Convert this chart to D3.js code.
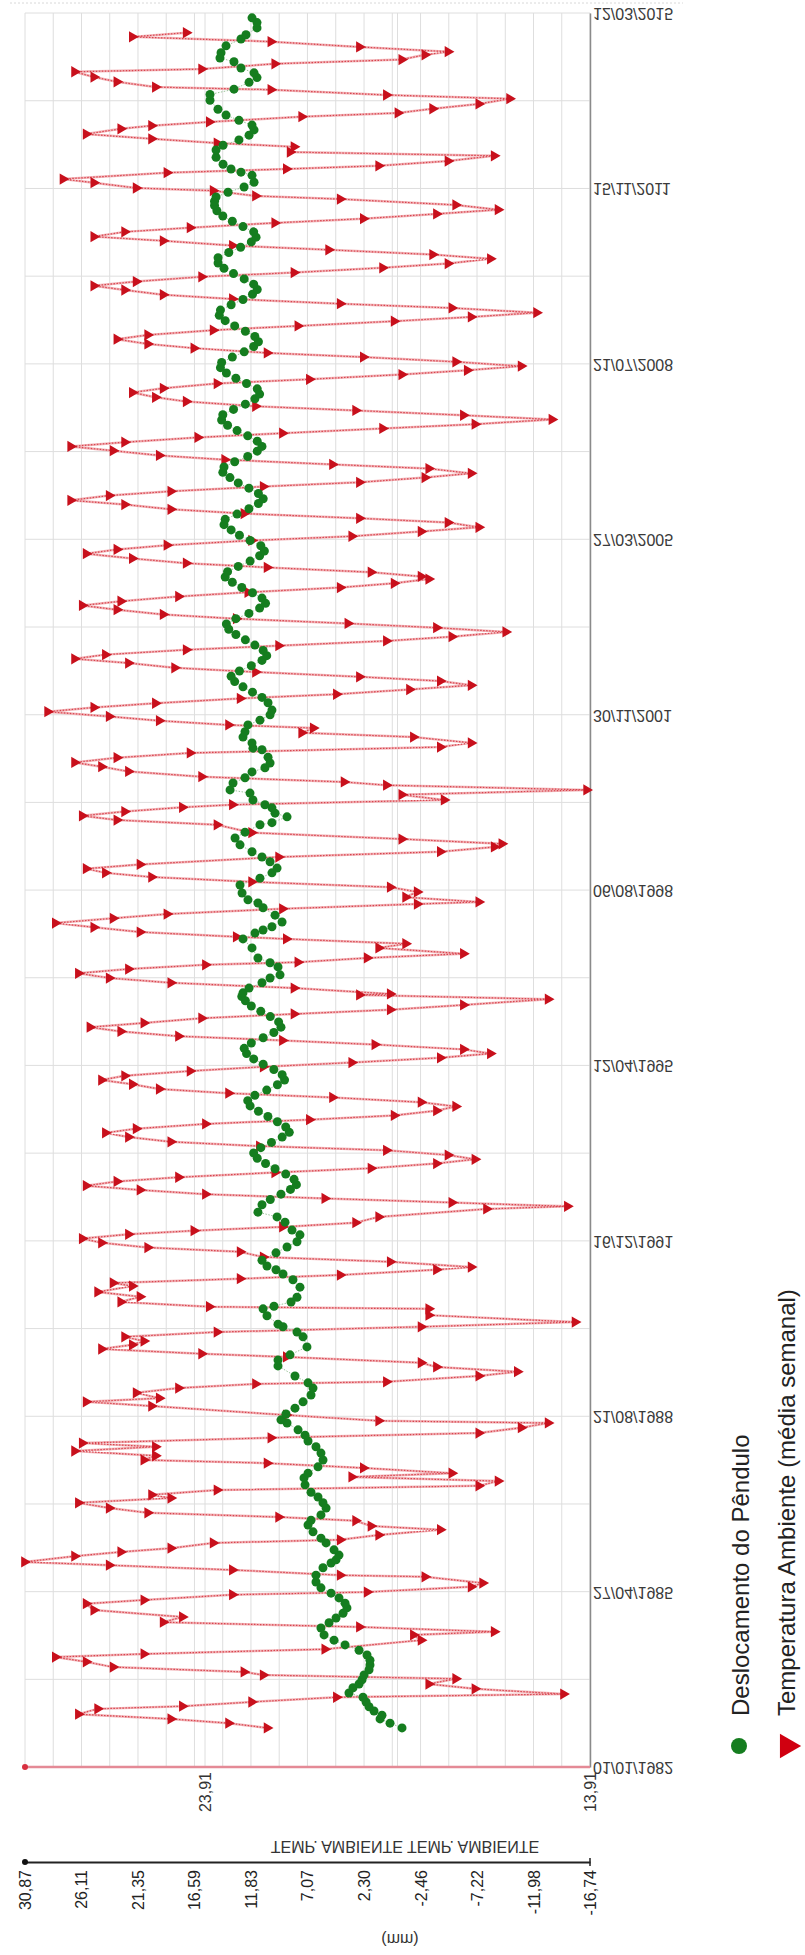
<!DOCTYPE html>
<html>
<head>
<meta charset="utf-8">
<script src="https://cdn.jsdelivr.net/npm/d3@7"></script>
<style>
  body { margin: 0; background: #fff; }
  svg { display: block; }
</style>
</head>
<body>
<div id="chart"></div>
<script>
// time axis tick labels (dd/mm/yyyy)
const dateTicks = ["01/01/1982", "27/04/1985", "21/08/1988", "16/12/1991", "12/04/1995",
  "06/08/1998", "30/11/2001", "27/03/2005", "21/07/2008", "15/11/2011", "12/03/2015"];
// displacement axis (mm)
const mmTicks = [30.87, 26.11, 21.35, 16.59, 11.83, 7.07, 2.30, -2.46, -7.22, -11.98, -16.74];
// temperature axis
const tempTicks = [23.91, 13.91];
const tempGrid = [23.91, 18.91, 13.91];

// Temperatura Ambiente (média semanal): [decimal year, °C]
const tempSeries = [
  [1982.74, 22.3], [1982.83, 23.3], [1982.91, 24.8], [1983.00, 27.2], [1983.10, 26.7], [1983.15, 24.5],
  [1983.23, 22.7], [1983.32, 20.5], [1983.38, 14.6], [1983.48, 16.9], [1983.57, 18.1], [1983.67, 17.4],
  [1983.74, 22.4], [1983.80, 22.9], [1983.89, 26.3], [1983.99, 27.0], [1984.08, 27.8], [1984.14, 25.5],
  [1984.23, 20.8], [1984.40, 18.3], [1984.50, 18.5], [1984.56, 16.4], [1984.65, 19.9], [1984.74, 25.0],
  [1984.84, 24.5], [1984.97, 26.8], [1985.09, 27.0], [1985.16, 25.5], [1985.26, 23.2], [1985.31, 19.7],
  [1985.41, 17.0], [1985.48, 16.7], [1985.60, 18.2], [1985.63, 20.4], [1985.73, 23.2], [1985.82, 26.4],
  [1985.88, 28.6], [1985.99, 27.3], [1986.07, 26.1], [1986.14, 24.8], [1986.24, 23.7], [1986.30, 20.4],
  [1986.39, 19.4], [1986.49, 17.8], [1986.56, 19.6], [1986.66, 20.0], [1986.73, 22.0], [1986.81, 25.4],
  [1986.90, 26.4], [1987.00, 27.2], [1987.09, 24.8], [1987.15, 25.3], [1987.24, 23.6], [1987.32, 16.8],
  [1987.41, 16.3], [1987.49, 20.1], [1987.56, 17.5], [1987.66, 19.8], [1987.75, 22.3], [1987.81, 25.5],
  [1987.89, 25.2], [1987.98, 27.3], [1988.06, 25.2], [1988.13, 27.1], [1988.23, 22.2], [1988.32, 16.8],
  [1988.42, 15.7], [1988.51, 15.0], [1988.55, 19.4], [1988.66, 21.8], [1988.83, 25.3], [1988.91, 27.0],
  [1988.98, 25.1], [1989.08, 25.7], [1989.17, 24.6], [1989.25, 22.6], [1989.29, 19.2], [1989.40, 16.8],
  [1989.48, 15.8], [1989.57, 17.9], [1989.65, 18.3], [1989.76, 21.8], [1989.82, 24.0], [1989.91, 26.6],
  [1989.99, 25.8], [1990.06, 25.5], [1990.14, 26.0], [1990.23, 23.6], [1990.33, 18.3], [1990.42, 14.3],
  [1990.55, 18.1], [1990.67, 18.1], [1990.71, 23.8], [1990.80, 26.1], [1990.90, 25.6], [1990.99, 26.7],
  [1991.10, 25.8], [1991.16, 26.3], [1991.24, 23.0], [1991.31, 20.4], [1991.41, 17.9], [1991.46, 17.0],
  [1991.56, 19.1], [1991.65, 22.4], [1991.75, 23.0], [1991.83, 25.4], [1991.92, 26.6], [1992.00, 27.1],
  [1992.08, 25.9], [1992.15, 24.2], [1992.22, 21.9], [1992.30, 20.0], [1992.41, 19.4], [1992.56, 16.6],
  [1992.61, 14.5], [1992.68, 17.5], [1992.76, 20.8], [1992.84, 23.9], [1992.92, 25.6], [1993.00, 27.0],
  [1993.08, 26.2], [1993.16, 24.6], [1993.25, 22.1], [1993.33, 19.6], [1993.42, 17.9], [1993.50, 16.9],
  [1993.58, 17.6], [1993.67, 19.2], [1993.75, 22.5], [1993.83, 24.8], [1993.92, 25.9], [1994.00, 26.5],
  [1994.08, 25.7], [1994.17, 23.9], [1994.25, 21.2], [1994.33, 19.0], [1994.42, 17.9], [1994.50, 17.4],
  [1994.58, 18.3], [1994.67, 20.6], [1994.75, 23.3], [1994.83, 25.1], [1994.92, 25.8], [1995.00, 26.6],
  [1995.08, 26.0], [1995.17, 24.3], [1995.25, 22.4], [1995.33, 20.1], [1995.42, 17.8], [1995.50, 16.5],
  [1995.58, 17.2], [1995.67, 19.5], [1995.75, 21.9], [1995.83, 24.6], [1995.92, 26.1], [1996.00, 26.9],
  [1996.08, 25.5], [1996.17, 24.0], [1996.25, 21.6], [1996.33, 19.1], [1996.42, 17.2], [1996.53, 15.0],
  [1996.61, 19.9], [1996.63, 19.1], [1996.74, 21.6], [1996.84, 24.8], [1996.93, 26.4], [1997.02, 27.2],
  [1997.10, 25.9], [1997.18, 23.9], [1997.23, 21.5], [1997.31, 19.7], [1997.39, 17.2], [1997.50, 19.4],
  [1997.58, 18.7], [1997.67, 21.8], [1997.71, 23.1], [1997.80, 25.6], [1997.89, 26.8], [1997.97, 27.8],
  [1998.06, 26.3], [1998.14, 24.9], [1998.24, 21.9], [1998.33, 18.4], [1998.37, 16.8], [1998.46, 18.7],
  [1998.56, 18.4], [1998.65, 19.1], [1998.75, 22.7], [1998.84, 25.3], [1998.92, 26.5], [1999.00, 27.0],
  [1999.08, 25.6], [1999.22, 22.0], [1999.32, 17.8], [1999.41, 16.4], [1999.47, 16.2], [1999.56, 18.8],
  [1999.68, 22.7], [1999.83, 23.6], [1999.92, 26.2], [2000.00, 27.1], [2000.08, 26.0], [2000.16, 24.5],
  [2000.21, 23.2], [2000.30, 17.7], [2000.40, 18.8], [2000.49, 14.0], [2000.58, 19.2], [2000.64, 20.3],
  [2000.74, 24.0], [2000.84, 25.9], [2000.93, 26.6], [2001.01, 27.3], [2001.10, 26.2], [2001.19, 24.3],
  [2001.30, 17.8], [2001.38, 17.0], [2001.49, 18.5], [2001.57, 21.4], [2001.66, 21.1], [2001.72, 23.3],
  [2001.80, 25.1], [2001.88, 26.4], [2001.97, 28.0], [2002.05, 26.8], [2002.13, 25.2], [2002.22, 23.0],
  [2002.30, 20.5], [2002.39, 18.6], [2002.47, 17.0], [2002.55, 17.8], [2002.63, 19.9], [2002.72, 22.6],
  [2002.80, 24.7], [2002.89, 25.9], [2002.97, 27.3], [2003.05, 26.5], [2003.14, 24.4], [2003.22, 22.0],
  [2003.31, 19.2], [2003.39, 17.5], [2003.48, 16.1], [2003.56, 17.9], [2003.64, 20.2], [2003.73, 23.1],
  [2003.81, 25.0], [2003.90, 26.2], [2003.98, 27.1], [2004.06, 26.1], [2004.15, 24.6], [2004.23, 22.8],
  [2004.32, 20.4], [2004.40, 19.0], [2004.48, 18.1], [2004.53, 18.3], [2004.61, 19.6], [2004.70, 22.3],
  [2004.78, 24.4], [2004.87, 25.8], [2004.96, 27.0], [2005.04, 26.2], [2005.12, 24.9], [2005.21, 22.7],
  [2005.29, 20.1], [2005.38, 18.3], [2005.46, 16.8], [2005.55, 17.6], [2005.63, 19.9], [2005.72, 22.9],
  [2005.80, 24.8], [2005.89, 26.0], [2005.97, 27.4], [2006.06, 26.4], [2006.14, 24.8], [2006.23, 22.4],
  [2006.31, 19.9], [2006.40, 18.2], [2006.48, 17.0], [2006.57, 18.1], [2006.65, 20.6], [2006.74, 23.4],
  [2006.82, 25.1], [2006.91, 26.3], [2006.99, 27.4], [2007.07, 26.0], [2007.16, 24.1], [2007.24, 21.9],
  [2007.33, 19.3], [2007.41, 16.9], [2007.50, 14.9], [2007.58, 17.2], [2007.67, 20.0], [2007.75, 22.6],
  [2007.84, 24.4], [2007.92, 25.2], [2008.01, 25.8], [2008.09, 25.0], [2008.18, 23.6], [2008.26, 21.2],
  [2008.35, 18.8], [2008.43, 17.1], [2008.51, 15.7], [2008.59, 17.4], [2008.68, 19.8], [2008.76, 22.3],
  [2008.85, 24.2], [2008.93, 25.4], [2009.02, 26.2], [2009.10, 25.4], [2009.19, 23.7], [2009.27, 21.5],
  [2009.36, 19.0], [2009.44, 17.0], [2009.52, 15.3], [2009.61, 17.5], [2009.69, 20.4], [2009.78, 23.2],
  [2009.86, 25.0], [2009.95, 26.0], [2010.03, 26.8], [2010.11, 25.7], [2010.20, 24.0], [2010.28, 21.6],
  [2010.37, 19.3], [2010.45, 17.6], [2010.54, 16.5], [2010.62, 18.0], [2010.71, 20.7], [2010.79, 23.2],
  [2010.88, 25.0], [2010.96, 26.8], [2011.05, 26.0], [2011.13, 24.3], [2011.22, 22.1], [2011.30, 19.8],
  [2011.39, 17.9], [2011.47, 16.3], [2011.56, 17.4], [2011.67, 20.4], [2011.73, 22.6], [2011.83, 23.7],
  [2011.88, 25.7], [2011.98, 26.8], [2012.05, 27.6], [2012.17, 24.9], [2012.24, 21.8], [2012.30, 19.4],
  [2012.39, 17.6], [2012.49, 16.4], [2012.56, 21.7], [2012.66, 21.6], [2012.73, 23.6], [2012.81, 25.3],
  [2012.90, 27.0], [2013.00, 26.1], [2013.06, 25.3], [2013.13, 23.8], [2013.23, 21.4], [2013.30, 18.9],
  [2013.38, 18.0], [2013.47, 16.8], [2013.57, 16.0], [2013.64, 19.2], [2013.74, 22.2], [2013.79, 25.2],
  [2013.89, 26.2], [2013.98, 26.8], [2014.08, 27.3], [2014.13, 24.0], [2014.23, 22.1], [2014.31, 18.8],
  [2014.40, 18.2], [2014.46, 17.6], [2014.55, 19.9], [2014.65, 22.2], [2014.74, 25.8], [2014.82, 24.4]
];

// Deslocamento do Pêndulo: [decimal year, mm]
const dispSeries = [
  [1982.74, -0.90], [1982.83, 0.11], [1982.91, 0.95], [1982.98, 0.79], [1983.06, 1.46], [1983.14, 1.88],
  [1983.23, 2.13], [1983.32, 2.39], [1983.40, 3.57], [1983.50, 3.23], [1983.57, 2.72], [1983.65, 2.47],
  [1983.74, 2.30], [1983.84, 1.88], [1983.93, 1.80], [1984.02, 1.80], [1984.12, 2.05], [1984.21, 2.72],
  [1984.31, 3.90], [1984.40, 4.83], [1984.50, 5.67], [1984.63, 5.93], [1984.73, 5.25], [1984.82, 4.66],
  [1984.91, 4.07], [1985.01, 3.74], [1985.10, 3.90], [1985.20, 4.41], [1985.29, 5.08], [1985.39, 5.93],
  [1985.50, 6.35], [1985.63, 6.35], [1985.77, 5.76], [1985.86, 5.08], [1985.92, 4.66], [1986.01, 4.41],
  [1986.11, 4.83], [1986.24, 5.50], [1986.33, 5.93], [1986.45, 6.60], [1986.58, 7.02], [1986.67, 6.77],
  [1986.77, 5.93], [1986.90, 5.50], [1987.00, 5.76], [1987.11, 6.18], [1987.20, 6.77], [1987.34, 7.27],
  [1987.47, 7.36], [1987.56, 7.02], [1987.68, 6.18], [1987.81, 5.76], [1987.94, 5.93], [1988.06, 6.35],
  [1988.17, 7.02], [1988.28, 7.27], [1988.38, 7.86], [1988.51, 8.79], [1988.57, 9.30], [1988.68, 8.88],
  [1988.79, 8.12], [1988.91, 7.44], [1989.04, 6.77], [1989.17, 6.60], [1989.27, 7.02], [1989.40, 8.12],
  [1989.59, 9.55], [1989.70, 9.55], [1989.80, 8.54], [1989.95, 7.11], [1990.14, 7.44], [1990.23, 7.95],
  [1990.33, 9.13], [1990.38, 9.55], [1990.54, 10.48], [1990.67, 10.81], [1990.72, 9.89], [1990.80, 8.45],
  [1990.89, 7.95], [1991.08, 7.70], [1991.22, 8.29], [1991.33, 9.13], [1991.41, 9.72], [1991.48, 10.48],
  [1991.59, 10.90], [1991.73, 9.72], [1991.84, 8.79], [1991.94, 7.95], [1992.07, 7.70], [1992.16, 8.37],
  [1992.31, 8.96], [1992.41, 9.63], [1992.50, 11.24], [1992.64, 10.90], [1992.74, 10.2], [1992.84, 9.3],
  [1992.93, 8.5], [1993.02, 8.0], [1993.12, 8.2], [1993.22, 8.9], [1993.32, 9.8], [1993.42, 10.6],
  [1993.52, 11.3], [1993.62, 11.6], [1993.72, 11.0], [1993.82, 10.1], [1993.92, 9.2], [1994.01, 8.6],
  [1994.11, 8.9], [1994.21, 9.6], [1994.31, 10.4], [1994.41, 11.2], [1994.51, 11.9], [1994.61, 12.1],
  [1994.71, 11.5], [1994.81, 10.5], [1994.91, 9.6], [1995.00, 9.0], [1995.10, 9.2], [1995.20, 9.9],
  [1995.30, 10.8], [1995.40, 11.6], [1995.50, 12.2], [1995.60, 12.4], [1995.70, 11.8], [1995.80, 10.8],
  [1995.90, 9.9], [1996.00, 9.3], [1996.10, 9.5], [1996.20, 10.2], [1996.30, 11.0], [1996.40, 11.8],
  [1996.50, 12.3], [1996.58, 12.6], [1996.65, 12.50], [1996.74, 11.99], [1996.84, 10.90], [1996.93, 10.22],
  [1996.99, 9.38], [1997.14, 9.55], [1997.22, 10.22], [1997.31, 11.24], [1997.50, 11.74], [1997.67, 12.50],
  [1997.78, 11.49], [1997.84, 10.81], [1997.90, 10.06], [1997.99, 9.21], [1998.12, 9.80], [1998.26, 10.81],
  [1998.35, 11.24], [1998.41, 12.08], [1998.54, 12.58], [1998.69, 12.75], [1998.82, 11.07], [1998.92, 10.06],
  [1999.01, 9.63], [1999.13, 10.22], [1999.22, 10.90], [1999.32, 11.74], [1999.45, 12.75], [1999.58, 13.17],
  [1999.69, 12.33], [1999.83, 11.07], [1999.87, 10.06], [1999.98, 8.79], [2000.05, 9.80], [2000.15, 10.06],
  [2000.21, 10.65], [2000.30, 11.66], [2000.43, 11.91], [2000.49, 13.59], [2000.62, 13.34], [2000.72, 12.33],
  [2000.83, 11.74], [2000.91, 10.65], [2001.00, 10.22], [2001.11, 10.39], [2001.25, 10.90], [2001.28, 11.66],
  [2001.38, 11.74], [2001.49, 12.50], [2001.59, 12.33], [2001.72, 12.08], [2001.81, 11.07], [2001.91, 10.22],
  [2002.00, 10.06], [2002.14, 10.39], [2002.24, 10.9], [2002.34, 11.7], [2002.44, 12.5], [2002.54, 13.2],
  [2002.64, 13.5], [2002.74, 12.8], [2002.84, 11.8], [2002.94, 10.9], [2003.03, 10.5], [2003.13, 10.8],
  [2003.23, 11.5], [2003.33, 12.3], [2003.43, 13.1], [2003.53, 13.7], [2003.63, 13.9], [2003.73, 13.1],
  [2003.83, 12.0], [2003.93, 11.1], [2004.02, 10.6], [2004.12, 10.9], [2004.22, 11.7], [2004.32, 12.6],
  [2004.42, 13.4], [2004.52, 14.0], [2004.62, 13.8], [2004.72, 12.9], [2004.82, 11.9], [2004.92, 11.1],
  [2005.01, 10.7], [2005.11, 11.0], [2005.21, 11.9], [2005.31, 12.8], [2005.41, 13.5], [2005.51, 14.1],
  [2005.61, 14.0], [2005.71, 13.0], [2005.81, 12.0], [2005.91, 11.2], [2006.00, 10.8], [2006.10, 11.2],
  [2006.20, 12.0], [2006.30, 12.9], [2006.40, 13.6], [2006.50, 14.2], [2006.60, 14.1], [2006.70, 13.2],
  [2006.80, 12.1], [2006.90, 11.3], [2006.99, 10.9], [2007.09, 11.3], [2007.19, 12.1], [2007.29, 13.0],
  [2007.39, 13.8], [2007.49, 14.3], [2007.59, 14.2], [2007.69, 13.3], [2007.79, 12.3], [2007.89, 11.5],
  [2007.98, 11.1], [2008.08, 11.3], [2008.18, 12.2], [2008.28, 13.1], [2008.38, 13.9], [2008.48, 14.4],
  [2008.58, 14.3], [2008.68, 13.4], [2008.78, 12.4], [2008.88, 11.6], [2008.97, 11.2], [2009.07, 11.5],
  [2009.17, 12.3], [2009.27, 13.2], [2009.37, 14.0], [2009.47, 14.5], [2009.57, 14.4], [2009.67, 13.5],
  [2009.77, 12.5], [2009.87, 11.7], [2009.96, 11.3], [2010.06, 11.6], [2010.16, 12.4], [2010.26, 13.3],
  [2010.36, 14.1], [2010.46, 14.6], [2010.56, 14.6], [2010.66, 13.7], [2010.76, 12.7], [2010.86, 11.8],
  [2010.95, 11.4], [2011.05, 11.6], [2011.15, 12.5], [2011.25, 13.4], [2011.35, 14.2], [2011.45, 14.7],
  [2011.55, 14.9], [2011.63, 14.9], [2011.71, 14.77], [2011.80, 13.76], [2011.90, 12.41], [2011.99, 11.57],
  [2012.12, 11.74], [2012.18, 12.67], [2012.24, 13.51], [2012.33, 14.18], [2012.46, 14.77], [2012.60, 14.77],
  [2012.69, 14.18], [2012.79, 12.84], [2012.88, 11.99], [2012.98, 11.57], [2013.07, 11.74], [2013.16, 12.84],
  [2013.26, 13.93], [2013.37, 14.61], [2013.54, 15.28], [2013.65, 15.28], [2013.75, 13.26], [2013.88, 11.99],
  [2013.97, 11.32], [2014.06, 11.57], [2014.15, 12.67], [2014.27, 13.26], [2014.34, 14.44], [2014.44, 14.35],
  [2014.57, 13.93], [2014.70, 12.67], [2014.78, 12.25], [2014.91, 11.32], [2015.01, 11.32], [2015.10, 11.74]
];

const W = 805, H = 1955;
const plot = { left: 25, right: 590, top: 13, bottom: 1767 };

const svg = d3.select("#chart").append("svg")
  .attr("width", W).attr("height", H)
  .style("font-family", "'Liberation Sans', Arial, sans-serif");

function toDecimal(label) {
  const [d, m, y] = label.split("/").map(Number);
  const t = Date.UTC(y, m - 1, d);
  const a = Date.UTC(y, 0, 1), b = Date.UTC(y + 1, 0, 1);
  return y + (t - a) / (b - a);
}
const tickDec = dateTicks.map(toDecimal);

const yTime = d3.scaleLinear()
  .domain([tickDec[0], tickDec[tickDec.length - 1]])
  .range([plot.bottom, plot.top]);
const xMM = d3.scaleLinear().domain([30.87, -16.74]).range([plot.left, plot.right]);
const xTemp = d3.scaleLinear().domain([23.91, 13.91]).range([205, plot.right]);

const comma = v => v.toFixed(2).replace(".", ",");

// faint frame line on top
svg.append("line")
  .attr("x1", 10).attr("x2", 683).attr("y1", 3).attr("y2", 3)
  .attr("stroke", "#d8d8d8").attr("stroke-dasharray", "2,2");

// grid
const grid = svg.append("g").attr("stroke", "#dedede").attr("stroke-width", 1);
const mmGrid = [];
mmTicks.forEach((v, i) => {
  mmGrid.push(v);
  if (i < mmTicks.length - 1) mmGrid.push((v + mmTicks[i + 1]) / 2);
});
grid.selectAll(".vg").data(mmGrid).join("line")
  .attr("x1", d => xMM(d)).attr("x2", d => xMM(d))
  .attr("y1", plot.top).attr("y2", plot.bottom);
grid.selectAll(".tg").data(tempGrid).join("line")
  .attr("x1", d => xTemp(d)).attr("x2", d => xTemp(d))
  .attr("y1", plot.top).attr("y2", plot.bottom);
const timeGrid = [];
tickDec.forEach((v, i) => {
  timeGrid.push(v);
  if (i < tickDec.length - 1) timeGrid.push((v + tickDec[i + 1]) / 2);
});
grid.selectAll(".hg").data(timeGrid).join("line")
  .attr("x1", plot.left).attr("x2", plot.right)
  .attr("y1", d => yTime(d)).attr("y2", d => yTime(d));

// time axis (right side), labels mirrored as in the source picture
const tAxis = svg.append("g").attr("transform", `translate(${plot.right},0)`)
  .call(d3.axisRight(yTime).tickValues(tickDec).tickSize(0).tickFormat((d, i) => dateTicks[i]));
tAxis.select(".domain").attr("stroke", "#8a8a8a").attr("stroke-width", 1.5);
tAxis.selectAll("text")
  .attr("x", 0).attr("dy", null)
  .attr("dominant-baseline", "central")
  .attr("text-anchor", "start")
  .attr("transform", "translate(3,0) scale(1,-1)")
  .style("font-size", "16px").attr("fill", "#3a3a3a");

// temperature axis line (bottom, red)
svg.append("line")
  .attr("x1", plot.left).attr("x2", plot.right)
  .attr("y1", plot.bottom).attr("y2", plot.bottom)
  .attr("stroke", "#e48a96").attr("stroke-width", 2.5);
svg.append("circle").attr("cx", plot.left).attr("cy", plot.bottom).attr("r", 3).attr("fill", "#d83040");
svg.selectAll(".tl").data(tempTicks).join("text")
  .attr("transform", d => `translate(${xTemp(d)},${plot.bottom + 5}) rotate(-90)`)
  .attr("text-anchor", "end").attr("dominant-baseline", "central")
  .style("font-size", "16px").attr("fill", "#333")
  .text(d => comma(d));

// displacement axis (bottom, black)
const axY = 1862;
const mAxis = svg.append("g").attr("transform", `translate(0,${axY})`)
  .call(d3.axisBottom(xMM).tickValues(mmTicks).tickSize(0).tickFormat(comma));
mAxis.select(".domain").attr("stroke", "#222").attr("stroke-width", 2);
mAxis.selectAll("text")
  .attr("y", 0).attr("dy", null)
  .attr("transform", "translate(0,8) rotate(-90)")
  .attr("text-anchor", "end").attr("dominant-baseline", "central")
  .style("font-size", "16px").attr("fill", "#222");
svg.append("circle").attr("cx", plot.left).attr("cy", axY).attr("r", 3).attr("fill", "#111");
svg.append("line").attr("x1", plot.right).attr("x2", plot.right)
  .attr("y1", axY - 4).attr("y2", axY + 4).attr("stroke", "#222").attr("stroke-width", 1.5);

svg.append("text")
  .attr("transform", `translate(405,1846) scale(1,-1)`)
  .attr("text-anchor", "middle").attr("dominant-baseline", "central")
  .style("font-size", "16px").attr("fill", "#333")
  .text("TEMP. AMBIENTE TEMP. AMBIENTE");
svg.append("text")
  .attr("transform", `translate(400,1939) scale(1,-1)`)
  .attr("text-anchor", "middle").attr("dominant-baseline", "central")
  .style("font-size", "16px").attr("fill", "#333")
  .text("(mm)");

// series
const tempData = tempSeries.map(([t, v]) => ({ t, v }));
const dispData = dispSeries.map(([t, v]) => ({ t, v }));

const tempLine = d3.line().x(d => xTemp(d.v)).y(d => yTime(d.t));
const dispLine = d3.line().x(d => xMM(d.v)).y(d => yTime(d.t));

svg.append("path").datum(tempData)
  .attr("d", tempLine).attr("fill", "none")
  .attr("stroke", "#f2b4b8").attr("stroke-width", 2.5);
svg.append("path").datum(tempData)
  .attr("d", tempLine).attr("fill", "none")
  .attr("stroke", "#d8454f").attr("stroke-width", 1.2).attr("stroke-dasharray", "1.5,1.5");

svg.append("path").datum(dispData)
  .attr("d", dispLine).attr("fill", "none")
  .attr("stroke", "#9ac49a").attr("stroke-width", 1).attr("stroke-dasharray", "1.5,1.5");

const tri = d3.symbol().type(d3.symbolTriangle).size(55);
svg.selectAll(".tri").data(tempData).join("path")
  .attr("d", tri)
  .attr("transform", d => `translate(${xTemp(d.v)},${yTime(d.t)}) rotate(90)`)
  .attr("fill", "#c8101c");

svg.selectAll(".dot").data(dispData).join("circle")
  .attr("cx", d => xMM(d.v)).attr("cy", d => yTime(d.t))
  .attr("r", 4.5).attr("fill", "#157d1f");

// legend (rotated)
const legend = [
  { name: "Deslocamento do Pêndulo", x: 739, base: 749 },
  { name: "Temperatura Ambiente (média semanal)", x: 787, base: 795 }
];
svg.append("circle").attr("cx", legend[0].x).attr("cy", 1746).attr("r", 8).attr("fill", "#157d1f");
svg.append("path")
  .attr("d", d3.symbol().type(d3.symbolTriangle).size(260))
  .attr("transform", `translate(${legend[1].x},1746) rotate(90)`)
  .attr("fill", "#d00010");
svg.selectAll(".lg").data(legend).join("text")
  .attr("transform", d => `translate(${d.base},1716) rotate(-90)`)
  .style("font-size", "24px").attr("fill", "#222")
  .text(d => d.name);
</script>
</body>
</html>
